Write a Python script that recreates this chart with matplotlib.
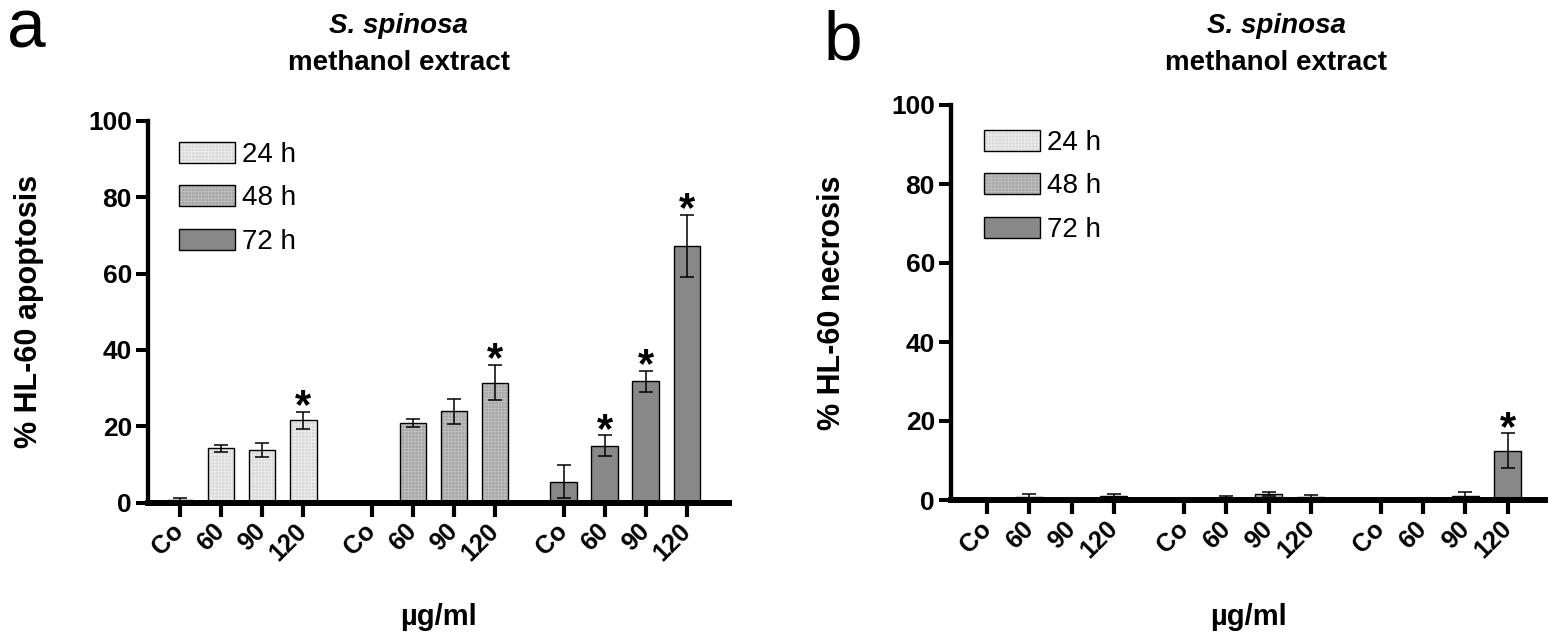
import matplotlib
matplotlib.use('Agg')
import matplotlib.pyplot as plt
from matplotlib.patches import Patch
from matplotlib.legend_handler import HandlerTuple
from matplotlib.transforms import ScaledTranslation
import numpy as np

plt.rcParams['font.family'] = ['Liberation Sans', 'DejaVu Sans']
plt.rcParams['hatch.linewidth'] = 0.5

# ---------------- data ----------------
series = ['24 h', '48 h', '72 h']
doses = ['Co', '60', '90', '120']

apop_24 = [0.8, 14.2, 13.7, 21.6]
apop_24_err = [0.5, 0.8, 1.8, 2.2]
apop_48 = [0.0, 20.9, 23.9, 31.4]
apop_48_err = [0.0, 1.05, 3.3, 4.6]
apop_72 = [5.5, 14.9, 31.8, 67.2]
apop_72_err = [4.4, 2.7, 2.7, 8.1]
apop_sig_24 = [False, False, False, True]
apop_sig_48 = [False, False, False, True]
apop_sig_72 = [False, True, True, True]

necr_24 = [0.0, 0.85, 0.0, 1.1]
necr_24_err = [0.0, 0.6, 0.0, 0.3]
necr_48 = [0.0, 0.5, 1.5, 0.8]
necr_48_err = [0.0, 0.6, 0.5, 0.5]
necr_72 = [0.0, 0.25, 1.1, 12.5]
necr_72_err = [0.0, 0.15, 0.85, 4.4]
necr_sig_24 = [False, False, False, False]
necr_sig_48 = [False, False, False, False]
necr_sig_72 = [False, False, False, True]

yticks = [0, 20, 40, 60, 80, 100]

# ---------------- styles ----------------
face_cols = ['#dadada', '#a9a9a9', '#888888']
hatch_cols = ['#f0f0f0', '#c2c2c2', None]
HATCH = '+++++'
BAR_W = 0.645

W, H = 1559, 639
fig = plt.figure(figsize=(W / 100, H / 100), dpi=100)


def fx(px):
    return px / W


def fy(py):
    return 1 - py / H


axA = fig.add_axes([fx(148), fy(502.7), (729 - 148) / W, (502.7 - 120.7) / H])
axB = fig.add_axes([fx(951), fy(500), (1545 - 951) / W, (500 - 105) / H])

positions = np.array([g * (4 + 2 / 3) + i for g in range(3) for i in range(4)])


def draw_panel(ax, vals_list, errs_list, sig_list, ylabel, xlim, leg_anchor, ylab_x, xlab_y):
    for g in range(3):
        xs = positions[g * 4:(g + 1) * 4]
        vals = np.array(vals_list[g])
        errs = np.array(errs_list[g])
        ax.bar(xs, vals, width=BAR_W, color=face_cols[g], linewidth=0, zorder=2)
        if hatch_cols[g] is not None:
            ax.bar(xs, vals, width=BAR_W, facecolor='none', edgecolor=hatch_cols[g],
                   hatch=HATCH, linewidth=0, zorder=2.05)
        ax.bar(xs, vals, width=BAR_W, facecolor='none', edgecolor='black',
               linewidth=1.0, zorder=2.1)
        m = errs > 0
        ax.errorbar(xs[m], vals[m], yerr=errs[m], fmt='none', ecolor='black',
                    elinewidth=1.1, capsize=5, capthick=1.1, zorder=3)
        for x, v, e, s in zip(xs, vals, errs, sig_list[g]):
            if s:
                ax.annotate('*', xy=(x, v + e), xytext=(0, -4.6), textcoords='offset points',
                            ha='center', va='baseline', fontsize=30, fontweight='bold',
                            annotation_clip=False)

    ax.set_xlim(*xlim)
    ax.set_ylim(0, 100)
    ax.set_yticks(yticks)
    ax.set_yticklabels([str(t) for t in yticks], fontsize=19, fontweight='bold')
    ax.set_xticks(positions)
    ax.set_xticklabels(doses * 3, rotation=45, ha='right', va='center',
                       rotation_mode='anchor', fontsize=18, fontweight='bold')
    shift = ScaledTranslation(6 / 100, 0, fig.dpi_scale_trans)
    for lbl in ax.get_xticklabels():
        lbl.set_transform(lbl.get_transform() + shift)
    ax.tick_params(axis='x', length=10, width=3, pad=8, color='black')
    ax.tick_params(axis='y', length=8.6, width=2.9, pad=3, color='black')
    for side in ['top', 'right']:
        ax.spines[side].set_visible(False)
    ax.spines['bottom'].set_linewidth(4.3)
    ax.spines['left'].set_linewidth(3.1)
    ax.patch.set_alpha(0)

    ax.set_ylabel(ylabel, fontsize=22, fontweight='bold')
    ax.yaxis.set_label_coords(ylab_x, 0.5)
    ax.set_xlabel('µg/ml', fontsize=21, fontweight='bold')
    ax.xaxis.set_label_coords(0.5, xlab_y)

    handles = []
    for g in range(3):
        parts = [Patch(facecolor=face_cols[g], linewidth=0)]
        if hatch_cols[g] is not None:
            parts.append(Patch(facecolor='none', edgecolor=hatch_cols[g], hatch=HATCH, linewidth=0))
        parts.append(Patch(facecolor='none', edgecolor='black', linewidth=1.0))
        handles.append(tuple(parts))
    ax.legend(handles, series, handler_map={tuple: HandlerTuple(ndivide=1, pad=0)},
              loc='upper left', bbox_to_anchor=leg_anchor, frameon=False, fontsize=20,
              handlelength=2.0, handleheight=0.79, handletextpad=0.28, labelspacing=0.62,
              borderpad=0, borderaxespad=0)


draw_panel(axA, [apop_24, apop_48, apop_72], [apop_24_err, apop_48_err, apop_72_err],
           [apop_sig_24, apop_sig_48, apop_sig_72], '% HL-60 apoptosis',
           (-0.78, 13.36), (0.0534, 0.945), -104 / 581, -0.263)
draw_panel(axB, [necr_24, necr_48, necr_72], [necr_24_err, necr_48_err, necr_72_err],
           [necr_sig_24, necr_sig_48, necr_sig_72], '% HL-60 necrosis',
           (-0.86, 13.22), (0.0556, 0.937), -104 / 594, -0.261)

# titles
for cx in (398.5, 1276):
    fig.text(fx(cx), fy(33.3), 'S. spinosa', ha='center', va='baseline', fontsize=20,
             fontweight='bold', fontstyle='italic')
    fig.text(fx(cx), fy(70), 'methanol extract', ha='center', va='baseline', fontsize=20,
             fontweight='bold')

fig.text(fx(7), fy(47), 'a', ha='left', va='baseline', fontsize=50)
fig.text(fx(824), fy(60), 'b', ha='left', va='baseline', fontsize=50)

fig.savefig('out.png', dpi=100)
